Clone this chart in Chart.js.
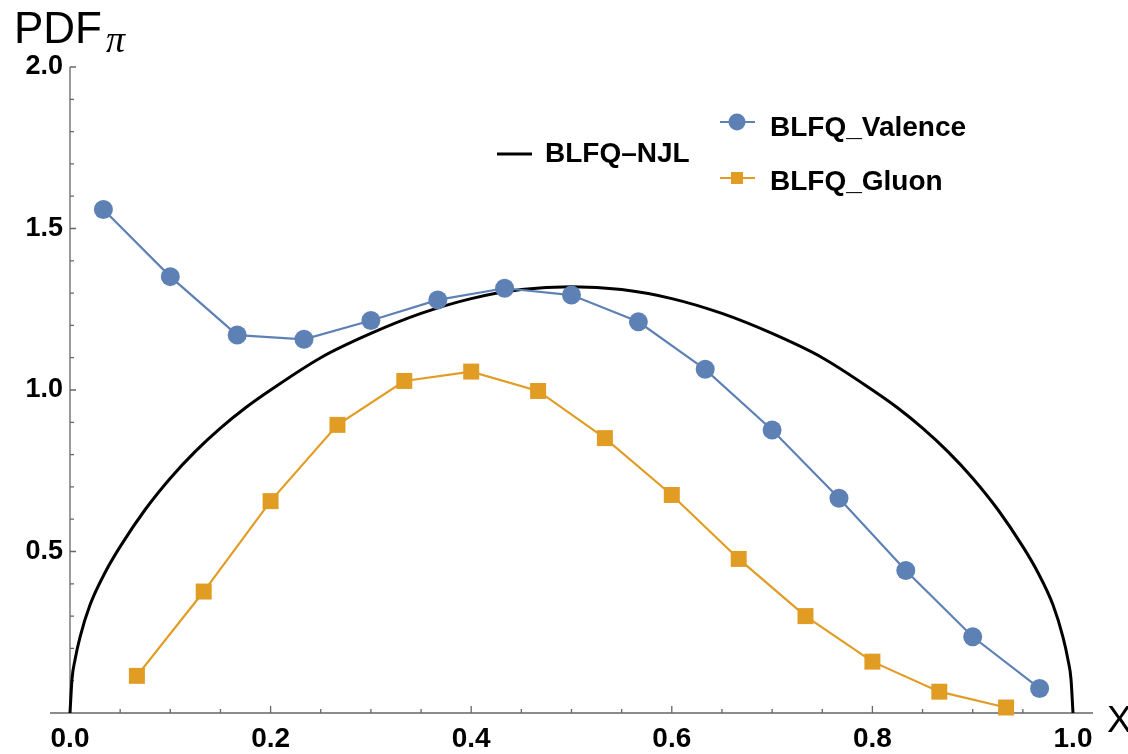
<!DOCTYPE html>
<html>
<head>
<meta charset="utf-8">
<title>PDF pi</title>
<script src="https://cdn.jsdelivr.net/npm/chart.js@4.4.1/dist/chart.umd.min.js"></script>
<style>
  body { margin: 0; background: #fff; }
  #wrap { width: 1128px; height: 754px; }
</style>
</head>
<body>
<div id="wrap"><canvas id="pdfChart" width="1128" height="754"></canvas></div>
<script>
// valence points sit at odd multiples of 1/30, gluon points at even ones
const valenceX = [0.0333, 0.1, 0.1667, 0.2333, 0.3, 0.3667, 0.4333, 0.5, 0.5667, 0.6333, 0.7, 0.7667, 0.8333, 0.9, 0.9667]
const valenceY = [1.559, 1.351, 1.170, 1.157, 1.215, 1.279, 1.315, 1.294, 1.211, 1.064, 0.876, 0.665, 0.441, 0.236, 0.076]
const gluonX = [0.0667, 0.1333, 0.2, 0.2667, 0.3333, 0.4, 0.4667, 0.5333, 0.6, 0.6667, 0.7333, 0.8, 0.8667, 0.9333]
const gluonY = [0.115, 0.376, 0.656, 0.892, 1.028, 1.057, 0.997, 0.851, 0.675, 0.477, 0.300, 0.159, 0.066, 0.017]

// BLFQ-NJL curve
const njlX = [0, 0.002, 0.005, 0.01, 0.02, 0.035, 0.05, 0.075, 0.1, 0.125, 0.15, 0.175, 0.2, 0.25, 0.3, 0.35, 0.4, 0.45, 0.5,
              0.55, 0.6, 0.65, 0.7, 0.75, 0.8, 0.825, 0.85, 0.875, 0.9, 0.925, 0.95, 0.965, 0.98, 0.99, 0.995, 0.998, 1.0]
const njlY = [0, 0.105, 0.165, 0.235, 0.335, 0.435, 0.515, 0.63, 0.727, 0.81, 0.882, 0.945, 1.0, 1.10, 1.175, 1.237, 1.283, 1.311, 1.32,
              1.311, 1.283, 1.237, 1.175, 1.10, 1.0, 0.945, 0.882, 0.81, 0.727, 0.63, 0.515, 0.435, 0.335, 0.235, 0.165, 0.105, 0]

const xTicks = [0, 0.2, 0.4, 0.6, 0.8, 1.0]
const yTicks = [0.5, 1.0, 1.5, 2.0]

const BLUE = '#5E81B5'
const ORANGE = '#E19C24'
const AXIS = '#666666'
const FONT = '"Liberation Sans", Arial, Helvetica, sans-serif'

function pts(xs, ys) {
    return xs.map((x, i) => ({ x: x, y: ys[i] }))
}

// Mathematica style axes: thin grey lines, ticks pointing inward
const axesPlugin = {
    id: 'mmaAxes',
    beforeDatasetsDraw(chart) {
        const ctx = chart.ctx
        const xs = chart.scales.x
        const ys = chart.scales.y
        const x0 = xs.getPixelForValue(0)
        const y0 = ys.getPixelForValue(0)
        ctx.save()
        ctx.strokeStyle = AXIS
        ctx.lineWidth = 1.3
        ctx.beginPath()
        ctx.moveTo(x0, ys.getPixelForValue(2))
        ctx.lineTo(x0, y0)
        ctx.moveTo(x0 - 20, y0)
        ctx.lineTo(xs.getPixelForValue(1) + 20, y0)
        // y ticks every 0.1, longer on the labelled ones
        for (let i = 1; i <= 20; i++) {
            const py = ys.getPixelForValue(i / 10)
            const len = i % 5 === 0 ? 6 : 4
            ctx.moveTo(x0, py)
            ctx.lineTo(x0 + len, py)
        }
        // x ticks every 0.05
        for (let i = 1; i <= 20; i++) {
            const px = xs.getPixelForValue(i / 20)
            const len = i % 4 === 0 ? 7 : 4
            ctx.moveTo(px, y0)
            ctx.lineTo(px, y0 - len)
        }
        ctx.stroke()
        ctx.restore()
    },
    afterDraw(chart) {
        const ctx = chart.ctx
        ctx.save()
        ctx.fillStyle = '#000'
        ctx.textBaseline = 'alphabetic'
        // axis labels
        ctx.font = '44px ' + FONT
        ctx.fillText('PDF', 14, 43)
        ctx.font = 'italic 38px "Liberation Serif", "Times New Roman", serif'
        ctx.fillText('π', 106, 52)
        ctx.font = '37px ' + FONT
        ctx.fillText('X', 1107, 732)

        // legend
        ctx.lineWidth = 3
        ctx.strokeStyle = '#000'
        ctx.beginPath()
        ctx.moveTo(497, 154)
        ctx.lineTo(532, 154)
        ctx.stroke()

        ctx.lineWidth = 2
        ctx.strokeStyle = BLUE
        ctx.beginPath()
        ctx.moveTo(720, 122)
        ctx.lineTo(755, 122)
        ctx.stroke()
        ctx.fillStyle = BLUE
        ctx.beginPath()
        ctx.arc(737, 122, 8.5, 0, Math.PI * 2)
        ctx.fill()

        ctx.strokeStyle = ORANGE
        ctx.beginPath()
        ctx.moveTo(720, 178)
        ctx.lineTo(755, 178)
        ctx.stroke()
        ctx.fillStyle = ORANGE
        ctx.fillRect(731, 172, 12, 12)

        ctx.fillStyle = '#000'
        ctx.font = 'bold 28px ' + FONT
        ctx.fillText('BLFQ–NJL', 545, 162)
        ctx.fillText('BLFQ_Valence', 770, 136)
        ctx.fillText('BLFQ_Gluon', 770, 190)
        ctx.restore()
    }
}

const chart = new Chart(document.getElementById('pdfChart'), {
    type: 'line',
    data: {
        datasets: [
            {
                label: 'BLFQ_Valence',
                data: pts(valenceX, valenceY),
                borderColor: BLUE,
                backgroundColor: BLUE,
                borderWidth: 2.2,
                pointStyle: 'circle',
                pointRadius: 9.5,
                pointBorderWidth: 0,
                tension: 0,
                clip: false,
                order: 1
            },
            {
                label: 'BLFQ_Gluon',
                data: pts(gluonX, gluonY),
                borderColor: ORANGE,
                backgroundColor: ORANGE,
                borderWidth: 2.2,
                pointStyle: 'rect',
                pointRadius: 11.3,
                pointBorderWidth: 0,
                tension: 0,
                clip: false,
                order: 2
            },
            {
                label: 'BLFQ-NJL',
                data: pts(njlX, njlY),
                borderColor: '#000',
                borderWidth: 3,
                pointRadius: 0,
                cubicInterpolationMode: 'monotone',
                clip: false,
                order: 3
            }
        ]
    },
    options: {
        responsive: false,
        animation: false,
        events: [],
        layout: { padding: { top: 67, right: 55, left: 0, bottom: 0 } },
        plugins: {
            legend: { display: false },
            tooltip: { enabled: false },
            title: { display: false }
        },
        scales: {
            x: {
                type: 'linear',
                min: 0,
                max: 1,
                afterBuildTicks: (scale) => { scale.ticks = xTicks.map(v => ({ value: v })) },
                afterFit: (scale) => { scale.height = 41 },
                grid: { display: false, drawTicks: false },
                border: { display: false },
                ticks: {
                    callback: (v) => v.toFixed(1),
                    color: '#000',
                    padding: 9,
                    maxRotation: 0,
                    font: { family: FONT, size: 28, weight: 'bold' }
                }
            },
            y: {
                type: 'linear',
                min: 0,
                max: 2,
                afterBuildTicks: (scale) => { scale.ticks = yTicks.map(v => ({ value: v })) },
                afterFit: (scale) => { scale.width = 70 },
                grid: { display: false, drawTicks: false },
                border: { display: false },
                ticks: {
                    callback: (v) => v.toFixed(1),
                    color: '#000',
                    padding: 7,
                    font: { family: FONT, size: 27, weight: 'bold' }
                }
            }
        }
    },
    plugins: [axesPlugin]
})
</script>
</body>
</html>
